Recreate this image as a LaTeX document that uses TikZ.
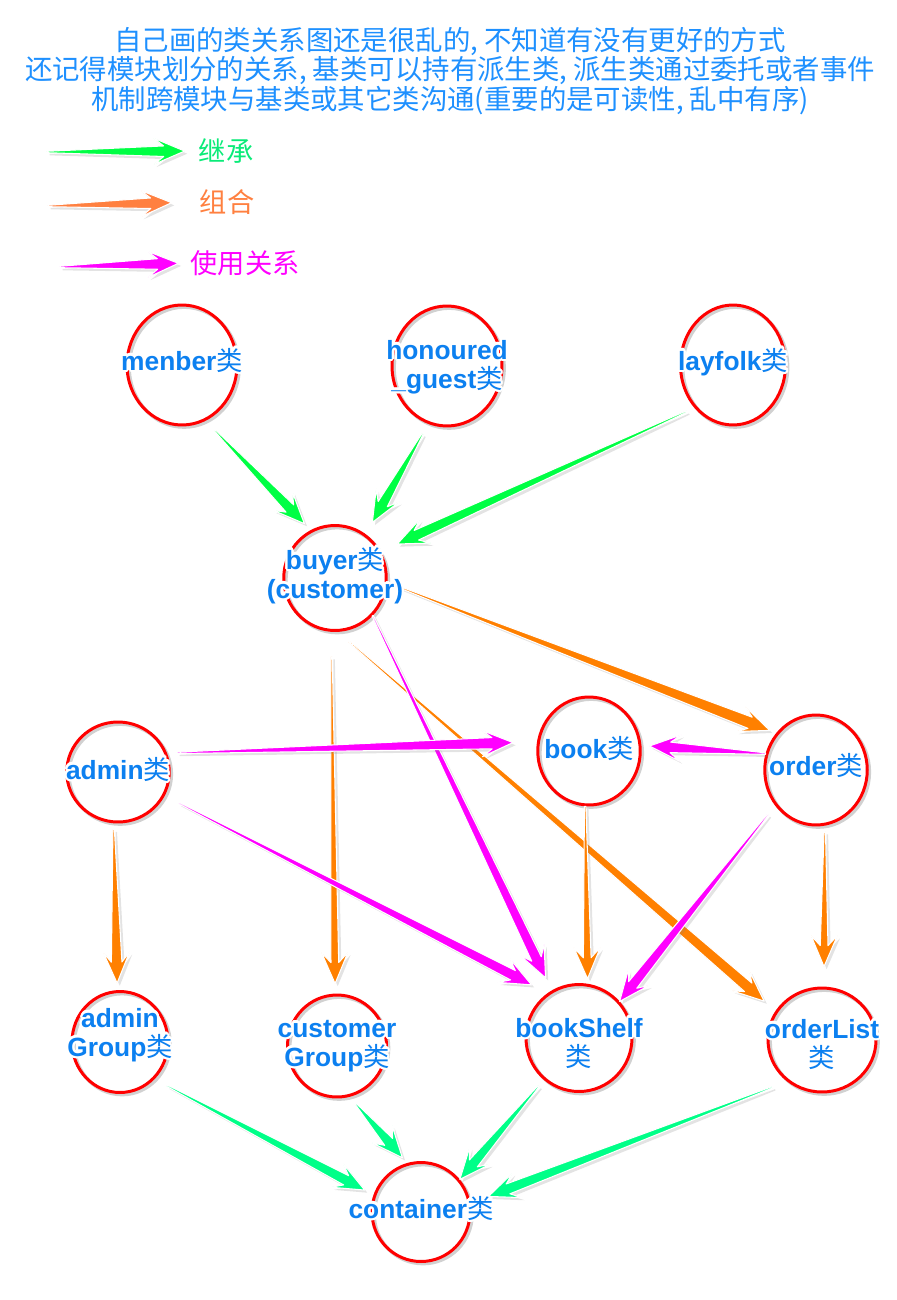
\documentclass[tikz,border=0pt]{standalone}
\usepackage{fontspec}
\usepackage{contour}
\setmainfont{Liberation Sans}
\newfontfamily\cjk{Noto Sans CJK SC}
\usetikzlibrary{calc,positioning,shapes.geometric,shadows}

\definecolor{titleblue}{RGB}{30,144,255}
\definecolor{nodeblue}{RGB}{12,128,240}
\definecolor{inhgreen}{RGB}{0,255,68}
\definecolor{inhgreen2}{RGB}{0,255,136}
\definecolor{leggreen}{RGB}{10,235,120}
\definecolor{comporange}{RGB}{255,128,0}
\definecolor{legorange}{RGB}{255,128,64}
\definecolor{usemagenta}{RGB}{255,0,255}

\contourlength{1.3pt}
\contournumber{16}
\newcommand\lei{{\cjk\mdseries 类}}
\newcommand\halo[1]{\contour{white}{#1}}

\pgfkeys{/relarrow/.cd,
  tailgap/.store in=\ratailgap,
  tipgap/.store in=\ratipgap,
  shaft/.store in=\rashaft}

% tapered arrow: [options]{colour}{from}{to}
\newcommand\relarrow[4][]{%
  \pgfkeys{/relarrow/.cd,tailgap=0.2cm,tipgap=0.08cm,shaft=3pt,#1}%
  \coordinate (ra) at ($(#3)!\ratailgap!(#4)$);
  \coordinate (rb) at ($(#4)!\ratipgap!(#3)$);
  \coordinate (rh) at ($(rb)!0.42cm!(ra)$);
  \coordinate (rw) at ($(rb)!0.62cm!(ra)$);
  \filldraw[fill=#2, draw=white, line width=0.6pt, line join=round,
    drop shadow={opacity=0.22, shadow xshift=1.5pt, shadow yshift=-1.5pt}]
    ($(ra)!0.4pt!90:(rb)$) -- ($(rh)!\rashaft!90:(rb)$) -- ($(rw)!7.5pt!90:(rb)$)
    -- (rb) -- ($(rw)!7.5pt!-90:(rb)$) -- ($(rh)!\rashaft!-90:(rb)$)
    -- ($(ra)!0.4pt!-90:(rb)$) -- cycle;
}

\tikzset{
  cls/.style={ellipse, draw=red, line width=1.7pt, inner sep=0pt,
    minimum width=2.05cm, minimum height=2.1cm,
    preaction={draw=black, opacity=.18, line width=2pt,
      transform canvas={shift={(1.2pt,-1.2pt)}}}},
  bigcls/.style={cls, minimum width=2.2cm, minimum height=2.4cm},
  clstxt/.style={text=nodeblue, inner sep=0.6pt,
    text height=11.5pt, text depth=3.5pt,
    font=\fontsize{15}{16}\selectfont\bfseries},
  legtxt/.style={inner sep=1pt, font=\cjk\fontsize{15.5}{17}\selectfont}
}

\begin{document}
\begin{tikzpicture}[x=0.02cm, y=-0.02cm]
\useasboundingbox (0,0) rectangle (896,1300);

% title
\node[align=center, text=titleblue, font=\cjk\fontsize{15.6}{16.6}\selectfont] (title) at (450,71)
  {自己画的类关系图还是很乱的, 不知道有没有更好的方式\\
   还记得模块划分的关系, 基类可以持有派生类, 派生类通过委托或者事件\\
   机制跨模块与基类或其它类沟通(重要的是可读性, 乱中有序)};

% legend
\node[legtxt, text=leggreen] (inh) at (226,151) {继承};
\node[legtxt, text=legorange] (comp) at (227,202) {组合};
\node[legtxt, text=usemagenta] (use) at (245,263) {使用关系};
\coordinate (inh-tail) at (47,152);
\coordinate (comp-tail) at (48,206);
\coordinate (use-tail) at (60,267);
\relarrow[tailgap=0cm, tipgap=0.24cm]{inhgreen}{inh-tail}{inh.west}
\relarrow[tailgap=0cm, tipgap=0.52cm]{legorange}{comp-tail}{comp.west}
\relarrow[tailgap=0cm, tipgap=0.2cm]{usemagenta}{use-tail}{use.west}

% classes
\node[bigcls] (menber) at (182,365) {};
\node[bigcls] (honoured) at (447,366) {};
\node[bigcls, minimum width=2.1cm] (layfolk) at (733,365) {};
\node[cls] (buyer) at (335,578) {};
\node[cls, minimum height=2.16cm] (book) at (589,751) {};
\node[cls, minimum height=2.2cm] (order) at (816,770) {};
\node[cls, minimum height=2cm] (admin) at (118,772) {};
\node[cls, minimum width=1.92cm, minimum height=2.02cm] (adminGroup) at (120,1042) {};
\node[cls, minimum width=1.98cm, minimum height=2.04cm] (customerGroup) at (337,1046) {};
\node[cls, minimum width=2.12cm, minimum height=2.14cm] (bookShelf) at (579,1038) {};
\node[cls, minimum width=2.16cm, minimum height=2.08cm] (orderList) at (822,1040) {};
\node[cls, minimum width=1.96cm, minimum height=1.98cm] (container) at (421,1212) {};

% inheritance
\relarrow[tailgap=0.27cm, tipgap=0.18cm]{inhgreen}{menber.-67}{buyer.117}
\relarrow[tailgap=0.23cm, tipgap=0.27cm]{inhgreen}{honoured.-108}{buyer.55}
\relarrow[tailgap=0.17cm, tipgap=0.36cm]{inhgreen}{layfolk.-132}{buyer.30}
\relarrow[tailgap=0.28cm, tipgap=0.2cm]{inhgreen2}{adminGroup.-47}{container.160}
\relarrow[tailgap=0.19cm, tipgap=0.14cm]{inhgreen2}{customerGroup.-76}{container.106}
\relarrow[tailgap=0.16cm, tipgap=0cm]{inhgreen2}{bookShelf.-130}{container.40}
\relarrow[tailgap=0.31cm, tipgap=0.38cm]{inhgreen2}{orderList.-130}{container.10}

% composition
\relarrow[tailgap=0.18cm, tipgap=0.14cm, shaft=3.4pt]{comporange}{buyer.-5}{order.137}
\relarrow[tailgap=0.5cm, tipgap=0.2cm, shaft=2.2pt]{comporange}{buyer.-94}{customerGroup.92}
\relarrow[tailgap=0.3cm, tipgap=0.3cm, shaft=3.2pt]{comporange}{buyer.-87}{orderList.148}
\relarrow[tailgap=0cm, tipgap=0.1cm, shaft=2.2pt]{comporange}{book.-94}{bookShelf.81}
\relarrow[tailgap=0.12cm, tipgap=0.4cm, shaft=2.2pt]{comporange}{order.-81}{orderList.88}
\relarrow[tailgap=0.12cm, tipgap=0.14cm]{comporange}{admin.-95}{adminGroup.93}

% usage
\relarrow[tailgap=0cm, tipgap=0.28cm]{usemagenta}{buyer.-45}{bookShelf.120}
\relarrow[tailgap=0.2cm, tipgap=0.48cm, shaft=3.2pt]{usemagenta}{admin.21}{book.170}
\relarrow[tailgap=0.32cm, tipgap=0.36cm]{usemagenta}{admin.-27}{bookShelf.125}
\relarrow[tailgap=0cm, tipgap=0.16cm]{usemagenta}{order.162}{book.6}
\relarrow[tailgap=0.23cm, tipgap=0cm]{usemagenta}{order.-139}{bookShelf.42}

% class names
\node[clstxt] (menber-name) at ($(menber)+(0,-2)$) {\halo{menber\lei}};
\node[clstxt] (honoured-name) at ($(honoured)+(0,-14)$) {\halo{honoured}};
\node[clstxt, below=0pt of honoured-name] (honoured-name2) {\halo{\_guest\lei}};
\node[clstxt] (layfolk-name) at ($(layfolk)+(0,-2)$) {\halo{layfolk\lei}};
\node[clstxt] (buyer-name) at ($(buyer)+(0,-16)$) {\halo{buyer\lei}};
\node[clstxt, below=0pt of buyer-name] (buyer-name2) {\halo{(customer)}};
\node[clstxt] (book-name) at (book) {\halo{book\lei}};
\node[clstxt] (order-name) at ($(order)+(0,-2)$) {\halo{order\lei}};
\node[clstxt] (admin-name) at (admin) {\halo{admin\lei}};
\node[clstxt] (adminGroup-name) at ($(adminGroup)+(0,-22)$) {\halo{admin}};
\node[clstxt, below=0pt of adminGroup-name] (adminGroup-name2) {\halo{Group\lei}};
\node[clstxt] (customerGroup-name) at ($(customerGroup)+(0,-16)$) {\halo{customer}};
\node[clstxt, below=0pt of customerGroup-name] (customerGroup-name2) {\halo{Group\lei}};
\node[clstxt] (bookShelf-name) at ($(bookShelf)+(0,-8)$) {\halo{bookShelf}};
\node[clstxt, below=0pt of bookShelf-name] (bookShelf-name2) {\halo{\lei}};
\node[clstxt] (orderList-name) at ($(orderList)+(0,-9)$) {\halo{orderList}};
\node[clstxt, below=0pt of orderList-name] (orderList-name2) {\halo{\lei}};
\node[clstxt] (container-name) at ($(container)+(0,-1)$) {\halo{container\lei}};
\end{tikzpicture}
\end{document}
